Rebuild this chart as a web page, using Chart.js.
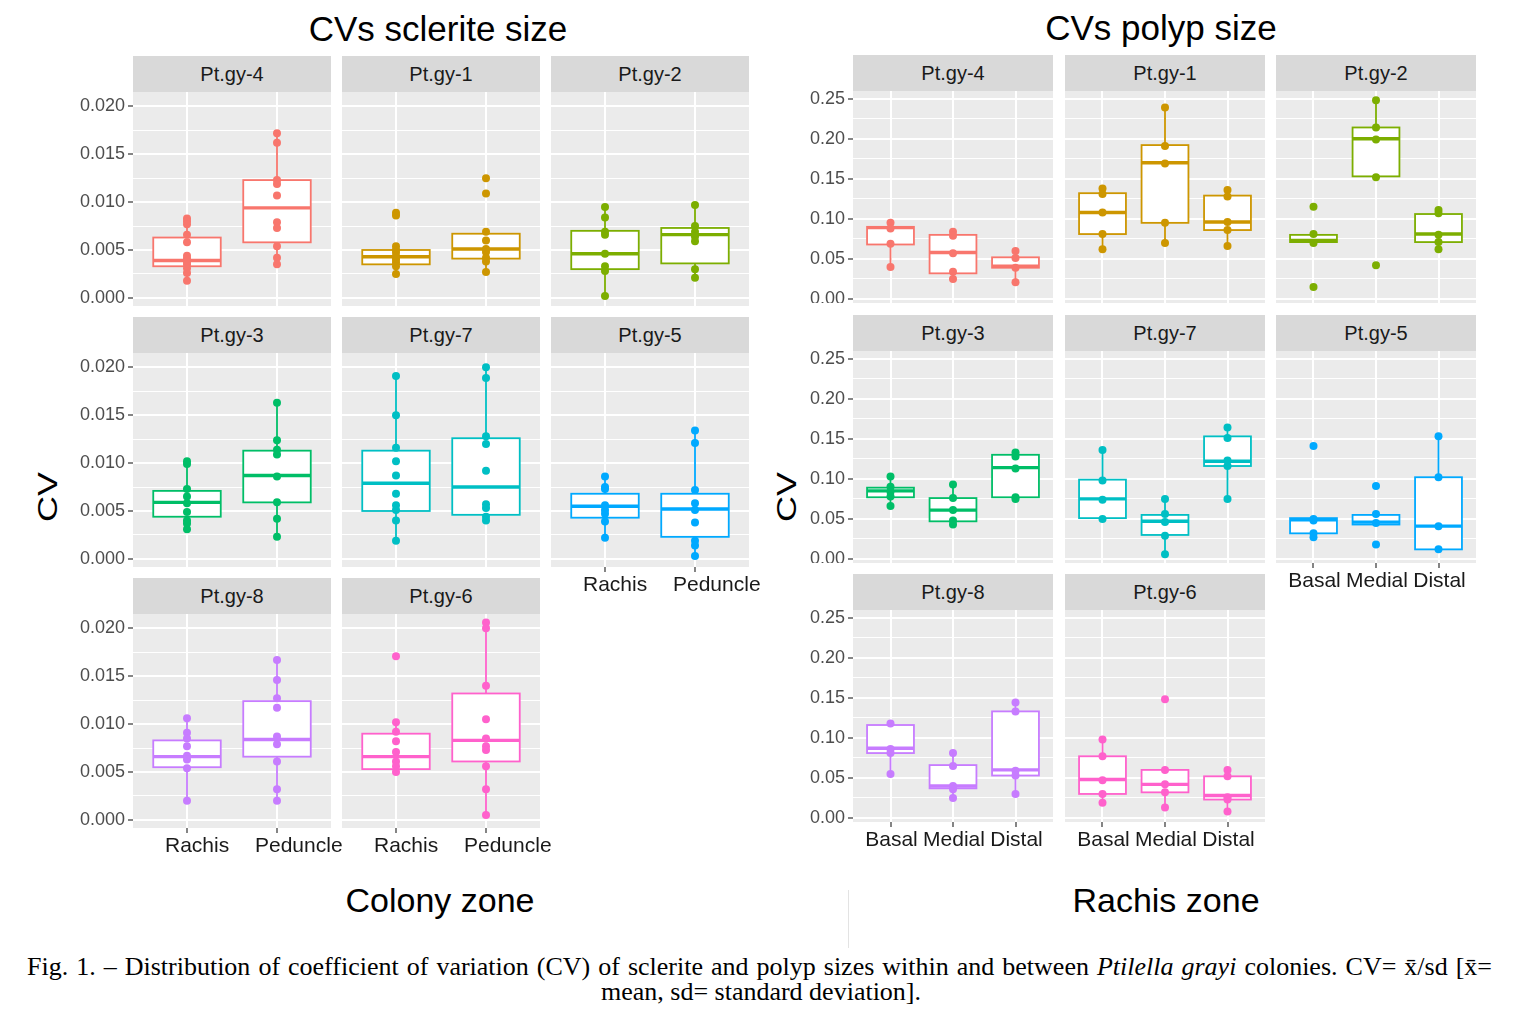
<!DOCTYPE html>
<html><head><meta charset="utf-8">
<script src="https://cdn.jsdelivr.net/npm/chart.js@4.4.1/dist/chart.umd.min.js"></script>
<style>
body{margin:0;background:#fff;}
#root{position:relative;width:1522px;height:1020px;overflow:hidden;font-family:"Liberation Sans",Arial,sans-serif;background:#fff;}
.strip{position:absolute;background:#d9d9d9;color:#1a1a1a;font-size:20px;text-align:center;white-space:nowrap;}
.pbox{position:absolute;}
.title{position:absolute;width:700px;text-align:center;color:#000;font-size:35px;line-height:35px;white-space:nowrap;}
.axt{position:absolute;width:500px;text-align:center;color:#000;font-size:34px;line-height:34px;white-space:nowrap;}
.cvlab{position:absolute;width:80px;height:36px;line-height:36px;text-align:center;font-size:36px;color:#000;transform:rotate(-90deg) scaleY(0.75);}
.cap{position:absolute;font-family:"Liberation Serif","Times New Roman",serif;font-size:26px;line-height:25px;color:#000;white-space:nowrap;}
</style></head>
<body>
<div id="root">
  <div class="title" style="left:88px;top:11px;">CVs sclerite size</div>
  <div class="title" style="left:811px;top:10px;">CVs polyp size</div>
  <div class="axt" style="left:190px;top:883px;">Colony zone</div>
  <div class="axt" style="left:916px;top:883px;">Rachis zone</div>
  <div class="cvlab" style="left:8px;top:479px;">CV</div>
  <div class="cvlab" style="left:747px;top:479px;">CV</div>
  <div style="position:absolute;left:848px;top:890px;width:1px;height:58px;background:#e3e3e3;"></div>
  <span id="cap1" class="cap" style="left:27px;top:954px;">Fig. 1. – Distribution of coefficient of variation (CV) of sclerite and polyp sizes within and between <i>Ptilella grayi</i> colonies. CV= x̄/sd [x̄=</span>
  <div class="cap" style="left:0;top:979px;width:1522px;text-align:center;">mean, sd= standard deviation].</div>
</div>
<script>
// ---------------- DATA ----------------
const colonies = ['Pt.gy-4','Pt.gy-1','Pt.gy-2','Pt.gy-3','Pt.gy-7','Pt.gy-5','Pt.gy-8','Pt.gy-6'];
const colonyColors = ['#F8766D','#CD9600','#7CAE00','#00BE67','#00BFC4','#00A9FF','#C77CFF','#FF61CC'];
const colonyZones = ['Rachis','Peduncle'];
const rachisZones = ['Basal','Medial','Distal'];
const scleriteTicks = [0, 0.005, 0.010, 0.015, 0.020];
const polypTicks = [0, 0.05, 0.10, 0.15, 0.20, 0.25];

// box statistics per colony and zone: [lower whisker, Q1, median, Q3, upper whisker]
const scleriteStats = [
  [[0.0018,0.0033,0.0039,0.0063,0.0083],[0.0035,0.0058,0.0094,0.0123,0.0172]],
  [[0.0025,0.0035,0.0043,0.0050,0.0054],[0.0027,0.0041,0.0051,0.0067,0.0069]],
  [[0.0002,0.0030,0.0046,0.0070,0.0095],[0.0021,0.0036,0.0066,0.0073,0.0097]],
  [[0.0031,0.0044,0.0059,0.0071,0.0102],[0.0023,0.0059,0.0087,0.0113,0.0163]],
  [[0.0019,0.0050,0.0079,0.0113,0.0191],[0.0040,0.0046,0.0075,0.0126,0.0200]],
  [[0.0022,0.0043,0.0055,0.0068,0.0086],[0.0003,0.0023,0.0052,0.0068,0.0134]],
  [[0.0020,0.0055,0.0066,0.0083,0.0106],[0.0020,0.0066,0.0084,0.0124,0.0167]],
  [[0.0050,0.0053,0.0066,0.0090,0.0102],[0.0005,0.0061,0.0083,0.0132,0.0206]]
];
const scleritePoints = [
  [[0.0083,0.0080,0.0077,0.0066,0.0058,0.0044,0.0041,0.0038,0.0035,0.0031,0.0026,0.0018],[0.0172,0.0162,0.0123,0.0119,0.0107,0.0079,0.0073,0.0054,0.0042,0.0035]],
  [[0.0089,0.0086,0.0054,0.0050,0.0047,0.0043,0.0040,0.0037,0.0033,0.0025],[0.0125,0.0109,0.0069,0.0060,0.0051,0.0048,0.0042,0.0038,0.0027]],
  [[0.0095,0.0084,0.0069,0.0066,0.0046,0.0033,0.0028,0.0002],[0.0097,0.0075,0.0069,0.0064,0.0059,0.0030,0.0021]],
  [[0.0102,0.0099,0.0073,0.0065,0.0058,0.0049,0.0040,0.0037,0.0031],[0.0163,0.0124,0.0114,0.0109,0.0086,0.0059,0.0042,0.0023]],
  [[0.0191,0.0150,0.0116,0.0102,0.0087,0.0068,0.0056,0.0051,0.0040,0.0019],[0.0200,0.0189,0.0128,0.0120,0.0092,0.0057,0.0053,0.0044,0.0040]],
  [[0.0086,0.0075,0.0073,0.0056,0.0051,0.0047,0.0039,0.0022],[0.0134,0.0121,0.0072,0.0058,0.0051,0.0038,0.0019,0.0014,0.0003]],
  [[0.0106,0.0091,0.0085,0.0077,0.0067,0.0063,0.0054,0.0020],[0.0167,0.0146,0.0127,0.0117,0.0087,0.0079,0.0061,0.0032,0.0020]],
  [[0.0171,0.0102,0.0092,0.0082,0.0071,0.0061,0.0056,0.0050],[0.0206,0.0200,0.0140,0.0105,0.0085,0.0077,0.0073,0.0056,0.0032,0.0005]]
];
const polypStats = [
  [[0.040,0.068,0.089,0.090,0.095],[0.025,0.032,0.058,0.080,0.084],[0.021,0.039,0.041,0.052,0.060]],
  [[0.062,0.081,0.108,0.132,0.138],[0.070,0.095,0.170,0.192,0.239],[0.066,0.086,0.096,0.129,0.136]],
  [[0.070,0.071,0.073,0.080,0.081],[0.153,0.153,0.200,0.214,0.248],[0.062,0.071,0.081,0.106,0.111]],
  [[0.066,0.077,0.085,0.089,0.103],[0.043,0.047,0.061,0.076,0.093],[0.075,0.077,0.114,0.130,0.133]],
  [[0.050,0.051,0.075,0.099,0.136],[0.006,0.030,0.047,0.055,0.075],[0.075,0.116,0.122,0.153,0.164]],
  [[0.027,0.032,0.049,0.051,0.051],[0.043,0.043,0.046,0.055,0.056],[0.012,0.012,0.041,0.102,0.153]],
  [[0.055,0.081,0.087,0.116,0.118],[0.025,0.037,0.040,0.066,0.081],[0.030,0.053,0.060,0.133,0.144]],
  [[0.019,0.030,0.048,0.077,0.098],[0.013,0.032,0.042,0.060,0.060],[0.008,0.023,0.028,0.052,0.060]]
];
const polypPoints = [
  [[0.095,0.088,0.069,0.040],[0.084,0.079,0.057,0.034,0.025],[0.060,0.051,0.039,0.021]],
  [[0.138,0.131,0.108,0.081,0.062],[0.239,0.191,0.169,0.095,0.070],[0.136,0.128,0.096,0.086,0.066]],
  [[0.115,0.081,0.070,0.015],[0.248,0.214,0.199,0.152,0.042],[0.111,0.107,0.080,0.071,0.062]],
  [[0.103,0.090,0.084,0.078,0.066],[0.093,0.076,0.061,0.048,0.043],[0.133,0.128,0.113,0.077,0.075]],
  [[0.136,0.098,0.074,0.050],[0.075,0.056,0.046,0.029,0.006],[0.164,0.151,0.123,0.116,0.075]],
  [[0.141,0.050,0.048,0.032,0.027],[0.091,0.056,0.045,0.018],[0.153,0.102,0.041,0.012]],
  [[0.118,0.086,0.081,0.055],[0.081,0.065,0.040,0.036,0.025],[0.144,0.133,0.059,0.053,0.030]],
  [[0.098,0.077,0.047,0.030,0.019],[0.148,0.060,0.042,0.032,0.013],[0.060,0.052,0.026,0.023,0.008]]
];

// ---------------- LAYOUT ----------------
const sets = [
  {cols:[133,342,551], width:198, tops:[92,353,614], height:214, stripH:36,
   yMin:-0.00085, yMax:0.0215, ticks:scleriteTicks, digits:3, zones:colonyZones,
   stats:scleriteStats, points:scleritePoints, labAlign:'start', labOffset:-22},
  {cols:[853,1065,1276], width:200, tops:[91,351,610], height:212, stripH:36,
   yMin:-0.005, yMax:0.2595, ticks:polypTicks, digits:2, zones:rachisZones,
   stats:polypStats, points:polypPoints, labAlign:'center', labOffset:1}
];
const root = document.getElementById('root');
const FONT = '"Liberation Sans", Arial, sans-serif';

function boxPlugin(stats, color) {
  return {
    id: 'ggbox',
    beforeDraw(chart) {
      const {ctx, chartArea: a} = chart;
      ctx.save();
      ctx.fillStyle = '#ebebeb';
      ctx.fillRect(a.left, a.top, a.right - a.left, a.bottom - a.top);
      ctx.restore();
    },
    beforeDatasetsDraw(chart) {
      const {ctx} = chart;
      const xs = chart.scales.x, ys = chart.scales.y;
      ctx.save();
      stats.forEach((st, i) => {
        const [lo, q1, med, q3, hi] = st;
        const xc = xs.getPixelForValue(i + 1);
        const xl = xs.getPixelForValue(i + 1 - 0.375);
        const xr = xs.getPixelForValue(i + 1 + 0.375);
        const yLo = ys.getPixelForValue(lo), yQ1 = ys.getPixelForValue(q1),
              yMed = ys.getPixelForValue(med), yQ3 = ys.getPixelForValue(q3),
              yHi = ys.getPixelForValue(hi);
        ctx.strokeStyle = color;
        ctx.lineWidth = 1.8;
        ctx.beginPath();
        ctx.moveTo(xc, yHi); ctx.lineTo(xc, yQ3);
        ctx.moveTo(xc, yQ1); ctx.lineTo(xc, yLo);
        ctx.stroke();
        ctx.fillStyle = '#ffffff';
        ctx.fillRect(xl, yQ3, xr - xl, yQ1 - yQ3);
        ctx.strokeRect(xl, yQ3, xr - xl, yQ1 - yQ3);
        ctx.lineWidth = 3.4;
        ctx.beginPath();
        ctx.moveTo(xl, yMed); ctx.lineTo(xr, yMed);
        ctx.stroke();
      });
      ctx.restore();
    }
  };
}

function buildPanel(set, i) {
  const row = Math.floor(i / 3), col = i % 3;
  const plotL = set.cols[col], plotT = set.tops[row];
  const showY = col === 0, showX = i >= 5;
  const Lw = showY ? 70 : 0, Bh = showX ? 40 : 0, Rw = showX ? 40 : 0;
  const color = colonyColors[i];

  const strip = document.createElement('div');
  strip.className = 'strip';
  Object.assign(strip.style, {left: plotL + 'px', top: (plotT - set.stripH) + 'px',
    width: set.width + 'px', height: set.stripH + 'px', lineHeight: set.stripH + 'px'});
  strip.textContent = colonies[i];
  root.appendChild(strip);

  const box = document.createElement('div');
  box.className = 'pbox';
  const W = set.width + Lw + Rw, H = set.height + Bh;
  Object.assign(box.style, {left: (plotL - Lw) + 'px', top: plotT + 'px', width: W + 'px', height: H + 'px'});
  const cv = document.createElement('canvas');
  cv.width = W; cv.height = H;
  cv.style.width = W + 'px'; cv.style.height = H + 'px';
  box.appendChild(cv);
  root.appendChild(box);

  const zones = set.zones;
  const pts = [];
  set.points[i].forEach((arr, z) => arr.forEach(v => pts.push({x: z + 1, y: v})));

  // major ticks + minor (midway) gridlines
  const yt = [];
  set.ticks.forEach((v, k) => {
    yt.push({value: v, minor: false});
    if (k < set.ticks.length - 1) yt.push({value: (v + set.ticks[k + 1]) / 2, minor: true});
  });

  new Chart(cv, {
    type: 'scatter',
    data: {datasets: [{data: pts, pointRadius: 4, pointHoverRadius: 4,
      pointBackgroundColor: color, pointBorderWidth: 0, borderWidth: 0, clip: 6}]},
    options: {
      responsive: false, animation: false, events: [],
      layout: {padding: {left: 0, top: 0, bottom: 0, right: Rw}, autoPadding: false},
      plugins: {legend: {display: false}, tooltip: {enabled: false}},
      scales: {
        x: {
          type: 'linear', min: 0.4, max: zones.length + 0.6,
          afterBuildTicks: s => { s.ticks = zones.map((z, k) => ({value: k + 1})); },
          afterFit: s => { s.height = Bh; s.paddingLeft = 0; s.paddingRight = 0; },
          border: {display: false},
          grid: {color: '#ffffff', lineWidth: 2, drawTicks: showX, tickLength: 5,
                 tickColor: '#333333', tickWidth: 1.2},
          ticks: {display: showX, color: '#1a1a1a', font: {family: FONT, size: 21},
                  padding: 1, align: set.labAlign, labelOffset: set.labOffset,
                  maxRotation: 0, autoSkip: false,
                  callback: v => zones[Math.round(v) - 1]}
        },
        y: {
          type: 'linear', min: set.yMin, max: set.yMax,
          afterBuildTicks: s => { s.ticks = yt.map(t => ({value: t.value, minor: t.minor})); },
          afterFit: s => { s.width = Lw; s.paddingTop = 0; s.paddingBottom = 0; },
          border: {display: false},
          grid: {color: '#ffffff',
                 lineWidth: c => (c.tick && c.tick.minor) ? 1 : 2,
                 drawTicks: showY, tickLength: 5, tickWidth: 1.2,
                 tickColor: c => (c.tick && c.tick.minor) ? 'rgba(0,0,0,0)' : '#333333'},
          ticks: {display: showY, color: '#4d4d4d', font: {family: FONT, size: 18}, padding: 3,
                  autoSkip: false,
                  callback: (v, k, arr) => (arr[k] && arr[k].minor) ? '' : v.toFixed(set.digits)}
        }
      }
    },
    plugins: [boxPlugin(set.stats[i], color)]
  });
}

sets.forEach(set => { for (let i = 0; i < colonies.length; i++) buildPanel(set, i); });

// justify caption first line to span 27..1492
(function () {
  const el = document.getElementById('cap1');
  el.style.display = 'inline-block';
  const w = el.getBoundingClientRect().width;
  const target = 1465;
  const spaces = (el.textContent.match(/ /g) || []).length;
  const ws = (target - w) / spaces;
  if (ws > -2) {
    el.style.wordSpacing = ws + 'px';
  } else {
    el.style.transformOrigin = '0 0';
    el.style.transform = 'scaleX(' + (target / w) + ')';
  }
})();
</script>
</body></html>
